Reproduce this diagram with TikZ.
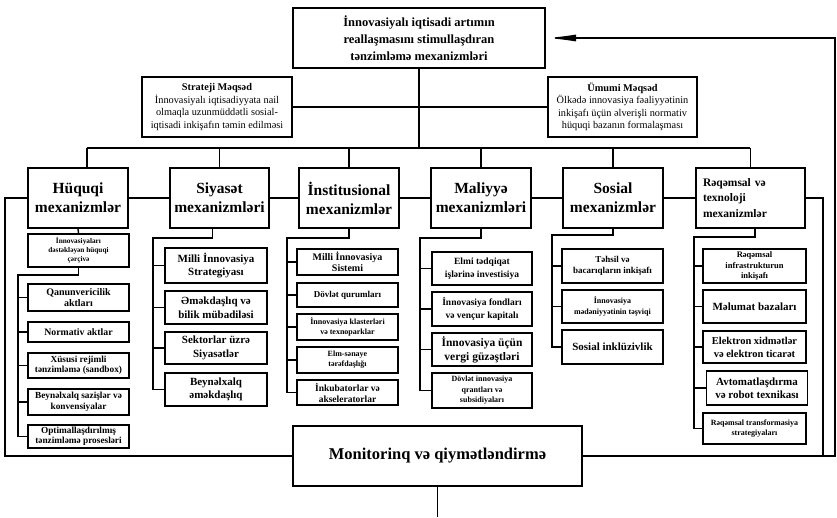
\documentclass[tikz,border=0pt]{standalone}
\usepackage{fontspec}
\setmainfont{Liberation Serif}
\usetikzlibrary{arrows.meta}
\newcommand{\myfs}[2]{\fontsize{#1}{#2}\selectfont}
\begin{document}
\begin{tikzpicture}[x=1pt,y=-1pt,
 box/.style={draw, line width=1.8pt, fill=white, align=center, inner sep=1pt, font=\bfseries},
 mainbox/.style={box, line width=2pt, minimum height=60pt, font=\bfseries\myfs{15.5}{19}},
 goalbox/.style={draw, line width=1.8pt, fill=white, align=center, inner sep=1pt, minimum width=150pt, minimum height=60pt, font=\myfs{10.3}{12.5}},
 conn/.style={line width=1.4pt},
]
\useasboundingbox (0,0) rectangle (837,517);

% title and goals
\node[box, line width=2pt, minimum width=252pt, minimum height=60pt, font=\bfseries\myfs{12.5}{17}] (title) at (419,38) {İnnovasiyalı iqtisadi artımın\\reallaşmasını stimullaşdıran\\tənzimləmə mexanizmləri};
\node[goalbox] (strat) at (217,107) {\textbf{Strateji Məqsəd}\\İnnovasiyalı iqtisadiyyata nail\\olmaqla uzunmüddətli sosial-\\iqtisadi inkişafın təmin edilməsi};
\node[goalbox, minimum width=149pt] (gen) at (622.5,107) {\textbf{Ümumi Məqsəd}\\Ölkədə innovasiya fəaliyyətinin\\inkişafı üçün əlverişli normativ\\hüquqi bazanın formalaşması};

% main mechanism boxes
\node[mainbox, minimum width=100pt] (huq) at (78,198) {Hüquqi\\mexanizmlər};
\node[mainbox, minimum width=99pt] (siy) at (219.5,198) {Siyasət\\mexanizmləri};
\node[mainbox, minimum width=100pt] (ins) at (349,198) {İnstitusional\\mexanizmlər};
\node[mainbox, minimum width=100pt] (mal) at (481,198) {Maliyyə\\mexanizmləri};
\node[mainbox, minimum width=100pt] (sos) at (613,198) {Sosial\\mexanizmlər};
\node[mainbox, minimum width=109pt, text width=95pt, align=left, font=\bfseries\myfs{11.5}{15.5}] (req) at (750.5,198) {Rəqəmsal və\\texnoloji\\mexanizmlər};

% Huquqi column
\node[box, minimum width=101pt, minimum height=33pt, font=\bfseries\myfs{7.3}{9}] (h1) at (78.5,250.5) {İnnovasiyaları\\dəstəkləyən hüquqi\\çərçivə};
\node[box, minimum width=101pt, minimum height=27pt, font=\bfseries\myfs{10}{11.5}] (h2) at (78.5,297.5) {Qanunvericilik\\aktları};
\node[box, minimum width=101pt, minimum height=20pt, font=\bfseries\myfs{9.8}{11}] (h3) at (78.5,332) {Normativ aktlar};
\node[box, minimum width=101pt, minimum height=25pt, font=\bfseries\myfs{9.3}{10.5}] (h4) at (78.5,365.5) {Xüsusi rejimli\\tənzimləmə (sandbox)};
\node[box, minimum width=101pt, minimum height=26pt, font=\bfseries\myfs{9.3}{11}] (h5) at (78.5,402) {Beynəlxalq sazişlər və\\konvensiyalar};
\node[box, minimum width=101pt, minimum height=23pt, font=\bfseries\myfs{9.3}{10.5}] (h6) at (78.5,436.5) {Optimallaşdırılmış\\tənzimləmə prosesləri};

% Siyaset column
\node[box, minimum width=102pt, minimum height=35pt, font=\bfseries\myfs{11}{13.5}] (s1) at (216,265.5) {Milli İnnovasiya\\Strategiyası};
\node[box, minimum width=102pt, minimum height=33pt, font=\bfseries\myfs{11}{13.5}] (s2) at (216,307.5) {Əməkdaşlıq və\\bilik mübadiləsi};
\node[box, minimum width=102pt, minimum height=32pt, font=\bfseries\myfs{11}{13.5}] (s3) at (216,348) {Sektorlar üzrə\\Siyasətlər};
\node[box, minimum width=102pt, minimum height=33pt, font=\bfseries\myfs{11}{13.5}] (s4) at (216,389.5) {Beynəlxalq\\əməkdaşlıq};

% Institusional column
\node[box, minimum width=101pt, minimum height=26pt, font=\bfseries\myfs{10}{11.5}] (i1) at (347.5,262) {Milli İnnovasiya\\Sistemi};
\node[box, minimum width=101pt, minimum height=24pt, font=\bfseries\myfs{9}{10}] (i2) at (347.5,295) {Dövlət qurumları};
\node[box, minimum width=101pt, minimum height=26pt, font=\bfseries\myfs{8}{10}] (i3) at (347.5,327) {İnnovasiya klasterləri\\və texnoparklar};
\node[box, minimum width=101pt, minimum height=26pt, font=\bfseries\myfs{8}{10}] (i4) at (347.5,360) {Elm-sənaye\\tərəfdaşlığı};
\node[box, minimum width=101pt, minimum height=25pt, font=\bfseries\myfs{9.5}{11}] (i5) at (347.5,392.5) {İnkubatorlar və\\akseleratorlar};

% Maliyye column
\node[box, minimum width=100pt, minimum height=33pt, font=\bfseries\myfs{9.5}{12.5}] (m1) at (482,268.5) {Elmi tədqiqat\\işlərinə investisiya};
\node[box, minimum width=100pt, minimum height=34pt, font=\bfseries\myfs{9.5}{12.5}] (m2) at (482,309) {İnnovasiya fondları\\və vençur kapitalı};
\node[box, minimum width=100pt, minimum height=33pt, font=\bfseries\myfs{11.5}{14}] (m3) at (482,349.5) {İnnovasiya üçün\\vergi güzəştləri};
\node[box, minimum width=100pt, minimum height=35pt, font=\bfseries\myfs{8}{10.5}] (m4) at (482,390.5) {Dövlət innovasiya\\qrantları və\\subsidiyaları};

% Sosial column
\node[box, minimum width=101pt, minimum height=34pt, font=\bfseries\myfs{9}{11.5}] (o1) at (612.5,266) {Təhsil və\\bacarıqların inkişafı};
\node[box, minimum width=101pt, minimum height=33pt, font=\bfseries\myfs{8}{11.5}] (o2) at (612.5,306.5) {İnnovasiya\\mədəniyyətinin təşviqi};
\node[box, minimum width=101pt, minimum height=34pt, font=\bfseries\myfs{11}{13}] (o3) at (612.5,347) {Sosial inklüzivlik};

% Reqemsal column
\node[box, minimum width=103pt, minimum height=34pt, font=\bfseries\myfs{8.5}{10.5}] (r1) at (754.5,266) {Rəqəmsal\\infrastrukturun\\inkişafı};
\node[box, minimum width=103pt, minimum height=33pt, font=\bfseries\myfs{11}{13}] (r2) at (754.5,306.5) {Məlumat bazaları};
\node[box, minimum width=103pt, minimum height=32pt, font=\bfseries\myfs{10.5}{13}] (r3) at (754.5,347) {Elektron xidmətlər\\və elektron ticarət};
\node[box, minimum width=101pt, minimum height=34pt, font=\bfseries\myfs{11}{13.5}] (r4) at (757,388) {Avtomatlaşdırma\\və robot texnikası};
\node[box, minimum width=103pt, minimum height=31pt, font=\bfseries\myfs{8}{10.5}] (r5) at (754.5,428.5) {Rəqəmsal transformasiya\\strategiyaları};

% Monitoring
\node[box, line width=2pt, minimum width=289pt, minimum height=60pt, font=\bfseries\myfs{16.5}{19}] (mon) at (437.5,456) {Monitorinq və qiymətləndirmə};

% coordinates
\coordinate (bl) at (87,148);
\coordinate (br) at (750,148);
\coordinate (hb) at (18,275);
\coordinate (sb) at (153,238);
\coordinate (ib) at (287,238);
\coordinate (mb) at (420,238);
\coordinate (ob) at (552,235);
\coordinate (rb) at (694,237);
\coordinate (ll) at (5,198);
\coordinate (rr) at (823,198);
\coordinate (ro) at (835,456);
\coordinate (bt) at (437.5,517);

% top connectors
\draw[conn] (title.south) -- (title.south |- bl);
\draw[conn] (strat) -- (gen);
\draw[conn] (bl) -- (br);
\draw[conn] (bl) -- (bl |- huq.north);
\foreach \n in {siy,ins,mal,sos,req} \draw[conn] (\n.north |- bl) -- (\n.north);

% row connectors
\draw[conn] (huq) -- (siy);
\draw[conn] (siy) -- (ins);
\draw[conn] (ins) -- (mal);
\draw[conn] (mal) -- (sos);
\draw[conn] (sos) -- (req);

% columns
\draw[conn] (huq.south) -- (h1.north);
\draw[conn] (h1.south) |- (hb) |- (h6.west);
\foreach \n in {h2,h3,h4,h5} \draw[conn] (hb |- \n.west) -- (\n.west);

\draw[conn] ([xshift=-7pt]siy.south) |- (sb) |- (s4.west);
\foreach \n in {s1,s2,s3} \draw[conn] (sb |- \n.west) -- (\n.west);

\draw[conn] (ins.south) |- (ib) |- (i5.west);
\foreach \n in {i1,i2,i3,i4} \draw[conn] (ib |- \n.west) -- (\n.west);

\draw[conn] (mal.south) |- (mb) |- (m4.west);
\foreach \n in {m1,m2,m3} \draw[conn] (mb |- \n.west) -- (\n.west);

\draw[conn] (sos.south) |- (ob) |- (o3.west);
\foreach \n in {o1,o2} \draw[conn] (ob |- \n.west) -- (\n.west);

\draw[conn] ([xshift=4.5pt]req.south) |- (rb) |- (r5.west);
\foreach \n in {r1,r2,r3,r4} \draw[conn] (rb |- \n.west) -- (\n.west);

% loops
\draw[conn] (huq.west) -- (ll) |- (mon.west);
\draw[conn] (req.east) -- (rr) |- (mon.east);
\draw[conn, -{Latex[length=30pt,width=7pt]}] (mon.east) -- (ro) |- (title.east);
\draw[conn] (mon.south) -- (bt);
\end{tikzpicture}
\end{document}
